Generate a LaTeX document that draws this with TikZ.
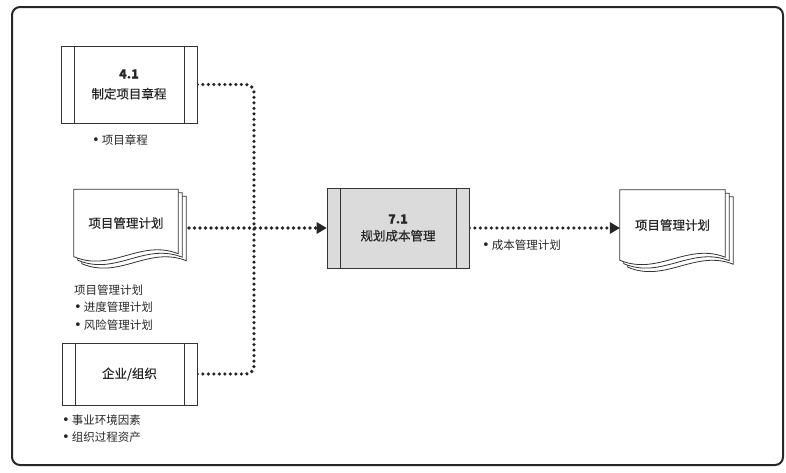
\documentclass[tikz,border=0pt]{standalone}
\usepackage{fontspec}
\newfontfamily\cjk{Noto Sans CJK SC}
\newfontfamily\cjkm[FakeBold=0.5]{Noto Sans CJK SC}
\newfontfamily\sym{DejaVu Sans}
\newcommand{\bul}{{\sym\fontsize{13}{13}\selectfont •}\hspace{2pt}}
\usetikzlibrary{arrows.meta}
\pgfdeclarelayer{edgelayer}
\pgfdeclarelayer{nodelayer}
\pgfsetlayers{edgelayer,nodelayer,main}
\tikzstyle{frame}=[draw=black!85, line width=2pt, rounded corners=8pt]
\tikzstyle{process}=[rectangle, draw=black!80, fill=white, line width=0.8pt, inner sep=0pt, align=center, text=black!85, font=\cjkm\fontsize{12.5}{20}\selectfont, path picture={\draw[line width=0.8pt, black!80] ([xshift=13pt]path picture bounding box.north west) -- ([xshift=13pt]path picture bounding box.south west) ([xshift=-13pt]path picture bounding box.north east) -- ([xshift=-13pt]path picture bounding box.south east);}]
\tikzstyle{document}=[rectangle, inner sep=0pt, text=black!85, font=\cjkm\fontsize{12.5}{16}\selectfont]
\tikzstyle{page}=[draw=black!80, fill=white, line width=0.8pt]
\tikzstyle{caption}=[anchor=west, inner sep=0pt, align=left, text=black!85, font=\cjk\fontsize{11.5}{17.5}\selectfont]
\tikzstyle{flow}=[draw=black!85, line width=3.6pt, line cap=round, dash pattern=on 0pt off 5.5pt, rounded corners=8pt]
\tikzstyle{flowhead}=[-{Triangle[length=10pt, width=12pt, line width=0pt]}]
\newcommand{\docpages}[1]{%
  \foreach \k in {2,1,0} {
    \draw [style=page] ([xshift=\k*4pt, yshift=-\k*3.5pt]#1.north west) -- ([xshift=\k*4pt, yshift=-\k*3.5pt]#1.north east)
      -- ([xshift=\k*4pt, yshift=-\k*3.5pt+3pt]#1.south east)
      .. controls ([xshift=\k*4pt-38pt, yshift=-\k*3.5pt+18pt]#1.south east) and ([xshift=\k*4pt+38pt, yshift=-\k*3.5pt-16pt]#1.south west)
      .. ([xshift=\k*4pt, yshift=-\k*3.5pt]#1.south west) -- cycle;
  }%
}

\begin{document}
\begin{tikzpicture}[x=1pt, y=-1pt]
			\useasboundingbox (0, 0) rectangle (786, 472);
			\begin{pgfonlayer}{nodelayer}
			\node [style=process, minimum width=136pt, minimum height=77pt] (1) at (129, 84.5) {{\bfseries 4.1}\\制定项目章程};
			\node [style=document, minimum width=104pt, minimum height=67pt] (2) at (126, 223) {项目管理计划};
			\node [style=process, minimum width=135pt, minimum height=62pt] (3) at (129.5, 374) {企业/组织};
			\node [style=process, fill=black!14, minimum width=142pt, minimum height=80pt, font=\cjkm\fontsize{12.5}{17}\selectfont] (4) at (398, 228) {{\bfseries 7.1}\\规划成本管理};
			\node [style=document, minimum width=105pt, minimum height=70pt] (5) at (672.5, 225) {项目管理计划};
			\node [style=caption] (8) at (92, 140) {\bul 项目章程};
			\node [style=caption] (9) at (74, 307.5) {项目管理计划\\ \bul 进度管理计划\\ \bul 风险管理计划};
			\node [style=caption] (10) at (62, 428.5) {\bul 事业环境因素\\\bul 组织过程资产};
			\node [style=caption] (11) at (482, 245) {\bul 成本管理计划};
			\coordinate (6) at (254, 228);
			\coordinate (7) at (189, 228);
			\end{pgfonlayer}
			\begin{pgfonlayer}{edgelayer}
			\draw [style=frame] (12, 7) rectangle (783, 465);
			\docpages{2}
			\docpages{5}
			\draw [style=flow] (1.east) -| (6);
			\draw [style=flow] (3.east) -| (6);
			\draw [style=flow, style=flowhead] (7) -- (4.west);
			\draw [style=flow, style=flowhead] (4.east) -- (4.east -| 5.west);
			\end{pgfonlayer}
			\end{tikzpicture}
\end{document}
